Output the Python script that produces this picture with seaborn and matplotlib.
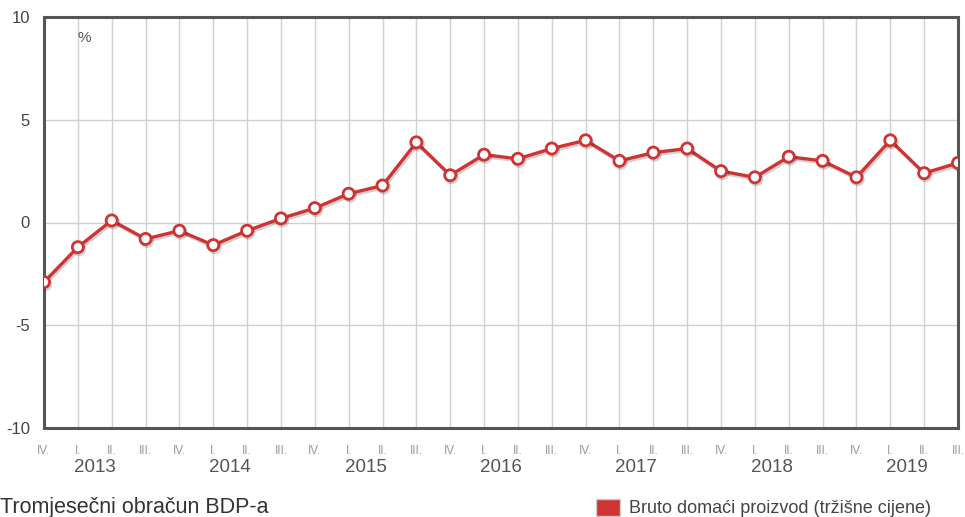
import seaborn as sns
import pandas as pd
import numpy as np
import matplotlib.pyplot as plt
import matplotlib.patheffects as pe
from matplotlib.patches import Patch

# quarterly real GDP change, %
quarters = ['IV.', 'I.', 'II.', 'III.', 'IV.', 'I.', 'II.', 'III.', 'IV.', 'I.', 'II.', 'III.', 'IV.',
            'I.', 'II.', 'III.', 'IV.', 'I.', 'II.', 'III.', 'IV.', 'I.', 'II.', 'III.', 'IV.',
            'I.', 'II.', 'III.']
years = ['2013', '2014', '2015', '2016', '2017', '2018', '2019']
gdp = [-2.9, -1.2, 0.1, -0.8, -0.4, -1.1, -0.4, 0.2, 0.7, 1.4, 1.8, 3.9, 2.3,
       3.3, 3.1, 3.6, 4.0, 3.0, 3.4, 3.6, 2.5, 2.2, 3.2, 3.0, 2.2,
       4.0, 2.4, 2.9]
series_name = 'Bruto domaći proizvod (tržišne cijene)'
title = 'Tromjesečni obračun BDP-a'

red = '#cf3434'

sns.set_style('white')
plt.rcParams['font.family'] = ['Liberation Sans', 'DejaVu Sans']
plt.rcParams['axes.unicode_minus'] = False

df = pd.DataFrame({'pos': np.arange(len(gdp)), 'val': gdp})

fig = plt.figure(figsize=(9.65, 5.17), dpi=100)
ax = fig.add_axes([44 / 965, 1 - 428 / 517, 914 / 965, 411 / 517])

sns.lineplot(data=df, x='pos', y='val', ax=ax, color=red, linewidth=2.4,
             marker='o', markersize=8, markerfacecolor='white',
             markeredgecolor=red, markeredgewidth=2, zorder=5,
             path_effects=[pe.SimpleLineShadow(offset=(1, -1.5), shadow_color='black', alpha=0.18),
                           pe.Normal()])

ax.set_xlim(0, len(gdp) - 1)
ax.set_ylim(-10, 10)
ax.set_yticks([-10, -5, 0, 5, 10])
ax.set_xticks(np.arange(len(gdp)))
ax.set_xticklabels(quarters)
ax.grid(True, color='#d0d0d0', linewidth=1)
ax.set_xlabel('')
ax.set_ylabel('')
ax.tick_params(axis='y', length=0, pad=10, labelsize=12, labelcolor='#444')
ax.tick_params(axis='x', length=0, pad=12, labelsize=8.5, labelcolor='#999')
for s in ax.spines.values():
    s.set_color('#555')
    s.set_linewidth(2.2)

# year labels sit between quarters I. and II.
first_q1 = 1
for i, y in enumerate(years):
    ax.text(first_q1 + 4 * i + 0.5, -0.095, y, transform=ax.get_xaxis_transform(),
            ha='center', va='center', fontsize=13.5, color='#555')

ax.text(1.2, 9.0, '%', ha='center', va='center', fontsize=11, color='#555')

fig.text(0.0, 1 - 508 / 517, title, ha='left', va='center', fontsize=15.5, color='#333')
fig.legend(handles=[Patch(facecolor=red, edgecolor='#cccccc')], labels=[series_name],
           loc='center left', bbox_to_anchor=(596 / 965, 1 - 508 / 517), frameon=False,
           handlelength=1.35, handleheight=1.1, borderpad=0, borderaxespad=0,
           handletextpad=0.5, fontsize=13, labelcolor='#444')

fig.savefig('out.png', dpi=100)
